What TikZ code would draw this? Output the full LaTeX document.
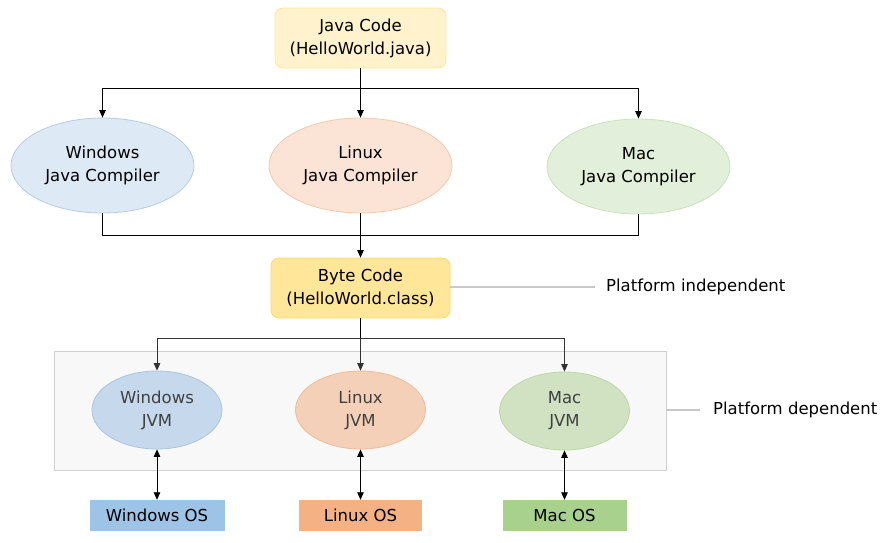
\documentclass[tikz,border=0pt]{standalone}
\usepackage{fontspec}
\setmainfont{DejaVu Sans}
\usetikzlibrary{arrows.meta,shapes.geometric}

\definecolor{codefill}{HTML}{FFF2CC}
\definecolor{codeline}{HTML}{FFE599}
\definecolor{bytefill}{HTML}{FFE699}
\definecolor{byteline}{HTML}{FFD966}
\definecolor{winfill}{HTML}{DEE9F6}
\definecolor{winline}{HTML}{B4CCEA}
\definecolor{linfill}{HTML}{FBE4D6}
\definecolor{linline}{HTML}{F6C9AA}
\definecolor{macfill}{HTML}{E2EFDA}
\definecolor{macline}{HTML}{C9E2B8}
\definecolor{winjvm}{HTML}{C6D9EC}
\definecolor{winjvmline}{HTML}{A9C4E3}
\definecolor{linjvm}{HTML}{F5D0B9}
\definecolor{linjvmline}{HTML}{F0BC96}
\definecolor{macjvm}{HTML}{D0E2C2}
\definecolor{macjvmline}{HTML}{BAD8A3}
\definecolor{winos}{HTML}{9DC3E6}
\definecolor{linos}{HTML}{F4B183}
\definecolor{macos}{HTML}{A9D18E}
\definecolor{boxfill}{HTML}{F8F8F8}
\definecolor{boxline}{HTML}{D0D0D0}
\definecolor{note}{HTML}{C8C8C8}
\definecolor{jvmtext}{HTML}{404040}

\begin{document}
\begin{tikzpicture}[x=1pt, y=-1pt,
        every node/.style={font=\fontsize{16.5}{23}\selectfont, align=center, inner sep=0pt},
        rbox/.style={draw, rounded corners=8pt, line width=0.8pt},
        compiler/.style={ellipse, draw, line width=0.8pt, minimum width=183pt, minimum height=95pt},
        jvm/.style={ellipse, draw, line width=0.8pt, minimum width=130pt, minimum height=78pt, text=jvmtext},
        osbox/.style={minimum height=31pt},
        link/.style={line width=0.8pt, -{Triangle[length=7.5pt,width=6.5pt]}},
        jlink/.style={line width=0.8pt, {Triangle[length=7.5pt,width=6.5pt]}-{Triangle[length=7.5pt,width=6.5pt]}},
        notelink/.style={note, line width=1.2pt}]
        \useasboundingbox (0, 0) rectangle (885, 542);

        % source and byte code
        \node[rbox, fill=codefill, draw=codeline, minimum width=171pt, minimum height=60pt] (code) at (360.5, 38) {Java Code\\(HelloWorld.java)};
        \node[rbox, fill=bytefill, draw=byteline, minimum width=179pt, minimum height=60pt] (byte) at (360.5, 288) {Byte Code\\(HelloWorld.class)};

        % compilers
        \node[compiler, fill=winfill, draw=winline] (wincomp) at (102.5, 165.5) {Windows\\Java Compiler};
        \node[compiler, fill=linfill, draw=linline] (lincomp) at (360.5, 165.5) {Linux\\Java Compiler};
        \node[compiler, fill=macfill, draw=macline] (maccomp) at (638.5, 166.5) {Mac\\Java Compiler};

        % platform dependent part
        \node[draw=boxline, fill=boxfill, line width=0.8pt, minimum width=612pt, minimum height=119pt] (jvmbox) at (360, 410.5) {};
        \node[jvm, fill=winjvm, draw=winjvmline] (winjvm) at (157, 410) {Windows\\JVM};
        \node[jvm, fill=linjvm, draw=linjvmline] (linjvm) at (360.5, 410) {Linux\\JVM};
        \node[jvm, fill=macjvm, draw=macjvmline] (macjvm) at (564.5, 411) {Mac\\JVM};

        \node[osbox, fill=winos, minimum width=135pt] (winos) at (157, 515.5) {Windows OS};
        \node[osbox, fill=linos, minimum width=123pt] (linos) at (360.5, 515.5) {Linux OS};
        \node[osbox, fill=macos, minimum width=124pt] (macos) at (564.5, 515.5) {Mac OS};

        % notes
        \node[anchor=west] (indep) at (606, 287) {Platform independent};
        \node[anchor=west] (dep) at (713, 410) {Platform dependent};
        \draw[notelink] (byte.east |- indep) -- ([xshift=-11pt]indep.west);
        \draw[notelink] (jvmbox.east |- dep) -- ([xshift=-13pt]dep.west);

        % connectors
        \coordinate (split1) at (360.5, 88);
        \coordinate (join1) at (360.5, 235);
        \coordinate (split2) at (360.5, 338);
        \draw[line width=0.8pt] (code.south) -- (split1);
        \draw[link] (split1) -| (wincomp.north);
        \draw[link] (split1) -- (lincomp.north);
        \draw[link] (split1) -| (maccomp.north);
        \draw[line width=0.8pt] (wincomp.south) |- (join1);
        \draw[line width=0.8pt] (maccomp.south) |- (join1);
        \draw[line width=0.8pt] (lincomp.south) -- (join1);
        \draw[link] (join1) -- (byte.north);
        \draw[line width=0.8pt] (byte.south) -- (split2);
        \draw[link, jvmtext!80!black] (split2) -| (winjvm.north);
        \draw[link, jvmtext!80!black] (split2) -- (linjvm.north);
        \draw[link, jvmtext!80!black] (split2) -| (macjvm.north);
        \draw[jlink] (winjvm.south) -- (winos.north);
        \draw[jlink] (linjvm.south) -- (linos.north);
        \draw[jlink] (macjvm.south) -- (macos.north);
      \end{tikzpicture}
\end{document}
